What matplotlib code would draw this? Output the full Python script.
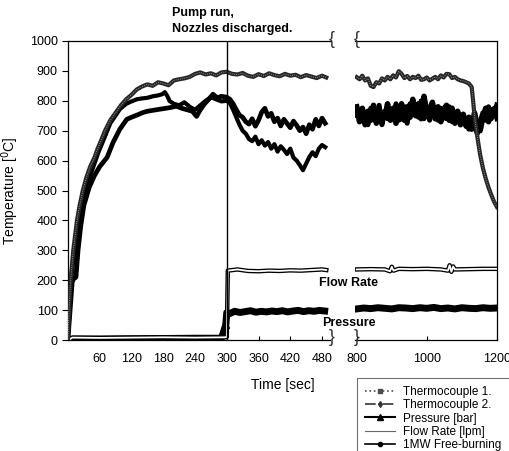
import numpy as np
import matplotlib
matplotlib.use("Agg")
import matplotlib.pyplot as plt
from matplotlib.lines import Line2D

plt.rcParams['font.family'] = ['Liberation Sans', 'DejaVu Sans']

# ---- datos: parte izquierda (0-490 s) ----
t_tc1_a = [0, 2, 5, 10, 17, 22, 28, 35, 42, 50, 56, 62, 70, 80, 90, 100, 110, 120, 130, 140,
           150, 160, 170, 180, 190, 200, 210, 220, 230, 240, 250, 260, 270, 280, 290, 300,
           310, 320, 330, 340, 350, 360, 370, 380, 390, 400, 410, 420, 430, 440, 450, 460,
           470, 480, 488]
tc1_a = [5, 100, 200, 300, 400, 450, 500, 545, 580, 610, 640, 665, 700, 735, 760, 785, 805, 820,
         838, 848, 855, 850, 862, 858, 852, 868, 872, 875, 880, 890, 895, 888, 892, 885, 895, 897,
         890, 888, 893, 884, 880, 889, 883, 892, 886, 882, 890, 884, 887, 879, 886, 881, 876,
         884, 878]

t_tc2_a = [0, 4, 8, 11, 15, 19, 24, 30, 40, 50, 60, 74, 85, 98, 111, 120, 130, 142, 150, 160,
           174, 185, 195, 205, 215, 225, 235, 243, 250, 258, 266, 274, 282, 290, 300, 306, 312,
           318, 324, 330, 336, 342, 348, 354, 360, 366, 372, 378, 384, 390, 396, 402, 408, 414,
           420, 426, 432, 438, 444, 450, 456, 462, 468, 474, 480, 486]
tc2_a = [5, 100, 195, 205, 210, 300, 380, 450, 510, 550, 580, 611, 660, 705, 738, 745, 752, 761,
         765, 768, 772, 775, 778, 782, 775, 770, 765, 748, 770, 790, 805, 822, 810, 815, 812,
         805, 790, 770, 752, 745, 730, 722, 740, 715, 735, 762, 775, 748, 758, 730, 742, 716,
         738, 724, 710, 732, 718, 700, 712, 690, 720, 705, 738, 716, 742, 725]

t_fb_a = [0, 3, 6, 12, 20, 26, 34, 42, 50, 58, 66, 80, 98, 110, 120, 130, 140, 150, 160, 170,
          178, 183, 188, 192, 200, 210, 220, 230, 240, 250, 260, 270, 280, 290, 300, 306, 312,
          318, 324, 330, 336, 342, 348, 354, 360, 366, 372, 378, 384, 390, 396, 402, 408, 414,
          420, 426, 432, 438, 444, 450, 456, 462, 468, 474, 480, 486]
fb_a = [5, 100, 200, 300, 400, 450, 500, 550, 590, 630, 664, 725, 772, 790, 798, 805, 808, 810,
        815, 818, 822, 829, 815, 799, 790, 785, 795, 780, 770, 785, 800, 812, 805, 798, 800, 792,
        770, 745, 720, 700, 690, 672, 665, 680, 655, 668, 650, 662, 640, 655, 630, 648, 636, 622,
        640, 610, 600, 585, 568, 590, 612, 628, 615, 640, 652, 645]

t_flow_a = [0, 4, 8, 60, 120, 180, 240, 296, 300, 302, 320, 340, 360, 380, 400, 420, 440, 460,
            480, 488]
flow_a = [0, 3, 8, 7, 8, 9, 8, 9, 10, 232, 236, 231, 230, 232, 231, 233, 232, 234, 236, 234]

t_pres_a = [0, 10, 60, 120, 180, 240, 290, 298, 300, 305, 315, 325, 335, 345, 355, 365, 375,
            385, 395, 405, 415, 425, 435, 445, 455, 465, 475, 485]
pres_a = [0, 3, 3, 4, 5, 6, 6, 50, 92, 88, 96, 92, 95, 98, 93, 96, 94, 97, 95, 98, 94, 97, 99,
          95, 98, 96, 99, 97]

# ---- datos: parte derecha (800-1200 s) ----
t_tc1_b = [800, 808, 816, 824, 832, 840, 848, 856, 864, 872, 880, 888, 896, 904, 912, 920, 928,
           936, 944, 952, 960, 968, 976, 984, 992, 1000, 1008, 1016, 1024, 1032, 1040, 1048,
           1056, 1064, 1072, 1080, 1088, 1096, 1104, 1112, 1120, 1128, 1132, 1136, 1144, 1152,
           1160, 1168, 1176, 1184, 1192, 1200]
tc1_b = [879, 872, 884, 868, 875, 850, 846, 862, 858, 875, 868, 880, 872, 885, 878, 899, 890,
         876, 883, 872, 880, 876, 884, 870, 872, 878, 868, 874, 880, 872, 885, 878, 890, 889,
         876, 880, 872, 868, 866, 862, 858, 846, 800, 750, 680, 620, 575, 540, 510, 485, 462, 445]

t_b = [800, 808, 816, 824, 832, 840, 848, 856, 864, 872, 880, 888, 896, 904, 912, 920, 928, 936,
       944, 952, 960, 968, 976, 984, 992, 1000, 1008, 1016, 1024, 1032, 1040, 1048, 1056, 1064,
       1072, 1080, 1088, 1096, 1104, 1112, 1120, 1128, 1136, 1144, 1152, 1160, 1168, 1176, 1184,
       1192, 1200]
tc2_b = [780, 730, 775, 720, 765, 735, 785, 725, 770, 740, 745, 790, 735, 775, 725, 770, 790,
         735, 780, 745, 805, 750, 790, 740, 815, 760, 770, 795, 740, 780, 730, 770, 785, 735,
         775, 725, 765, 720, 755, 715, 745, 705, 760, 715, 700, 745, 775, 730, 770, 755, 785]
fb_b = [750, 770, 735, 760, 720, 775, 750, 730, 785, 720, 765, 740, 760, 745, 790, 735, 740,
        780, 725, 790, 760, 775, 745, 800, 740, 780, 735, 770, 760, 735, 775, 745, 740, 780,
        730, 760, 740, 730, 740, 725, 705, 740, 720, 690, 730, 760, 735, 780, 740, 775, 740]

t_flow_b = [800, 840, 880, 895, 900, 905, 920, 960, 1000, 1040, 1060, 1065, 1070, 1075, 1080,
            1120, 1160, 1200]
flow_b = [236, 237, 236, 230, 245, 232, 238, 237, 238, 236, 232, 250, 228, 246, 236, 237, 238, 238]

t_pres_b = [800, 820, 840, 860, 880, 900, 920, 940, 960, 980, 1000, 1020, 1040, 1060, 1080,
            1100, 1120, 1140, 1160, 1180, 1200]
pres_b = [104, 107, 105, 108, 106, 104, 108, 107, 105, 108, 106, 109, 105, 107, 104, 108, 106,
          105, 108, 106, 107]

y_ticks = [0, 100, 200, 300, 400, 500, 600, 700, 800, 900, 1000]
x_ticks_a = [60, 120, 180, 240, 300, 360, 420, 480]
x_ticks_b = [800, 1000, 1200]

fig = plt.figure(figsize=(5.10, 4.51), dpi=100)
ax1 = fig.add_axes([0.1333, 0.2461, 0.5137, 0.663])
ax2 = fig.add_axes([0.696, 0.2461, 0.2784, 0.663], sharey=ax1)


def dibujar(ax, t1, y1, t2, y2, tf, yf, tp, yp, tfl, yfl, grueso):
    ax.plot(t1, y1, color='0.15', lw=3.0, zorder=4)
    ax.plot(t1, y1, color='0.7', lw=0.6, ls=':', zorder=5)
    ax.plot(t2, y2, color='black', lw=grueso, zorder=3)
    ax.plot(tf, yf, color='black', lw=grueso - 0.4, zorder=3)
    ax.plot(tp, yp, color='black', lw=5.0, zorder=3)
    ax.plot(tfl, yfl, color='black', lw=3.2, zorder=3)
    ax.plot(tfl, yfl, color='white', lw=1.3, zorder=3)


dibujar(ax1, t_tc1_a, tc1_a, t_tc2_a, tc2_a, t_fb_a, fb_a, t_pres_a, pres_a,
        t_flow_a, flow_a, 3.4)
dibujar(ax2, t_tc1_b, tc1_b, t_b, tc2_b, t_b, fb_b, t_pres_b, pres_b, t_flow_b, flow_b, 4.0)
ax1.plot([298], [50], marker='^', color='black', ms=4)
ax1.axvline(300, color='black', lw=1.0, zorder=6)

ax1.set_xlim(0, 495)
ax2.set_xlim(795, 1200)
ax1.set_ylim(0, 1000)
ax1.set_yticks(y_ticks)
ax1.set_xticks(x_ticks_a)
ax2.set_xticks(x_ticks_b)
ax1.spines['right'].set_visible(False)
ax2.spines['left'].set_visible(False)
ax2.tick_params(axis='y', left=False, labelleft=False)
for ax in (ax1, ax2):
    for s in ax.spines.values():
        s.set_linewidth(0.9)
    ax.tick_params(axis='x', direction='in', length=3, labelsize=9, pad=9)
    ax.tick_params(axis='y', direction='out', length=4, labelsize=9)

ax1.set_ylabel("Temperature [$^0$C]", fontsize=10)
ax1.yaxis.set_label_coords(-0.18, 0.5)

# llaves del corte del eje
for xb in (332, 357):
    fig.text(xb / 510, 1 - 40 / 451, '{', fontsize=13, ha='center', va='center',
             color='0.2', fontweight='light')
    fig.text(xb / 510, 1 - 337 / 451, '}', fontsize=13, ha='center', va='center',
             color='0.2', fontweight='light')

fig.text(172 / 510, 1 - 7 / 451, "Pump run,\nNozzles discharged.", fontsize=9,
         fontweight='bold', ha='left', va='top', linespacing=1.4)
fig.text(349 / 510, 1 - 283 / 451, "Flow Rate", fontsize=9, fontweight='bold',
         ha='center', va='center')
fig.text(349 / 510, 1 - 323 / 451, "Pressure", fontsize=9, fontweight='bold',
         ha='center', va='center')
fig.text(283 / 510, 1 - 385 / 451, "Time [sec]", fontsize=10, ha='center', va='center')

handles = [
    Line2D([], [], color='0.3', ls=':', lw=1.2, marker='s', ms=3),
    Line2D([], [], color='0.2', ls='-.', lw=1.2, marker='d', ms=3),
    Line2D([], [], color='black', ls='-', lw=1.5, marker='^', ms=4),
    Line2D([], [], color='0.4', ls='-', lw=0.8),
    Line2D([], [], color='black', ls='-', lw=1.2, marker='o', ms=3),
]
labels = ["Thermocouple 1.", "Thermocouple 2.", "Pressure [bar]", "Flow Rate [lpm]",
          "1MW Free-burning"]
leg = fig.legend(handles, labels, loc='upper left', bbox_to_anchor=(0.700, 0.1619),
                 fontsize=8.5, frameon=True, fancybox=False, handlelength=2.5,
                 labelspacing=0.1, borderpad=0.7, borderaxespad=0, handletextpad=0.7)
leg.get_frame().set_edgecolor('0.3')
leg.get_frame().set_linewidth(0.8)

fig.savefig("out.png", dpi=100)
